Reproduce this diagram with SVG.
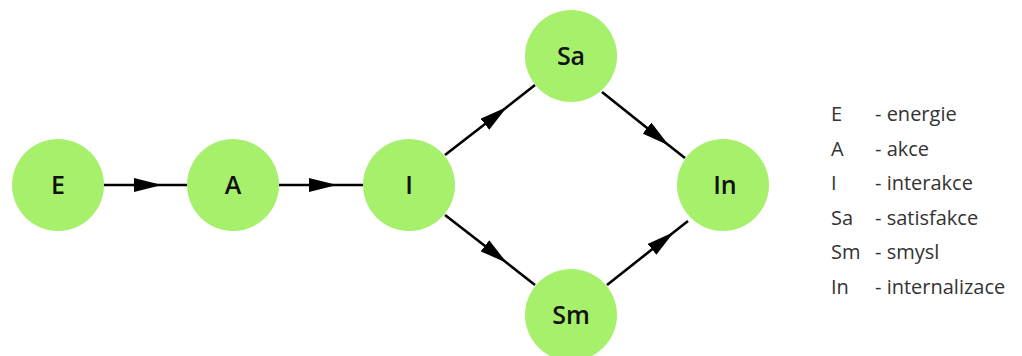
<svg xmlns="http://www.w3.org/2000/svg" width="1022" height="356" viewBox="0 0 1022 356">
  <defs>
    <marker id="arrow" viewBox="0 0 28 14" refX="28" refY="7" markerWidth="28" markerHeight="14" markerUnits="userSpaceOnUse" orient="auto">
      <path d="M0,0 L28,7 L0,14 Z" fill="#000"/>
    </marker>
    <style>
      .node circle { fill: #a6f06b; }
      .node text { font-family: "Open Sans", "Noto Sans", sans-serif; font-weight: 600; font-size: 25px; fill: #111; text-anchor: middle; }
      .edge { fill: none; stroke: #000; stroke-width: 2.6; marker-mid: url(#arrow); }
      .legend text { font-family: "Open Sans", "Noto Sans", sans-serif; font-size: 20px; fill: #333; }
    </style>
  </defs>
  <rect width="1022" height="356" fill="#fff"/>

  <!-- connectors: the middle vertex of each path is where the arrowhead tip sits -->
  <g id="connectors">
    <path class="edge" d="M104,185 L162,185 L188,185"/>
    <path class="edge" d="M279,185 L337,185 L364,185"/>
    <path class="edge" d="M445,155 L507,107 L535,85"/>
    <path class="edge" d="M445,215 L507,263 L535,285"/>
    <path class="edge" d="M602,92 L669,145.5 L685,158"/>
    <path class="edge" d="M607,285 L674,232 L688,221"/>
  </g>

  <g id="node-E" class="node"><circle cx="58" cy="185" r="46"/><text x="58" y="194">E</text></g>
  <g id="node-A" class="node"><circle cx="233" cy="185" r="46"/><text x="233" y="194">A</text></g>
  <g id="node-I" class="node"><circle cx="409" cy="185" r="46"/><text x="409" y="194">I</text></g>
  <g id="node-Sa" class="node"><circle cx="571" cy="56" r="46"/><text x="571" y="65">Sa</text></g>
  <g id="node-Sm" class="node"><circle cx="571" cy="315" r="46"/><text x="571" y="324">Sm</text></g>
  <g id="node-In" class="node"><circle cx="723" cy="185" r="46"/><text x="725" y="194">In</text></g>

  <g id="legend" class="legend">
    <text x="831" y="121">E</text><text x="875" y="121">- energie</text>
    <text x="831" y="155.6">A</text><text x="875" y="155.6">- akce</text>
    <text x="831" y="190.2">I</text><text x="875" y="190.2">- interakce</text>
    <text x="831" y="224.8">Sa</text><text x="875" y="224.8">- satisfakce</text>
    <text x="831" y="259.4">Sm</text><text x="875" y="259.4">- smysl</text>
    <text x="831" y="294">In</text><text x="875" y="294">- internalizace</text>
  </g>
</svg>
